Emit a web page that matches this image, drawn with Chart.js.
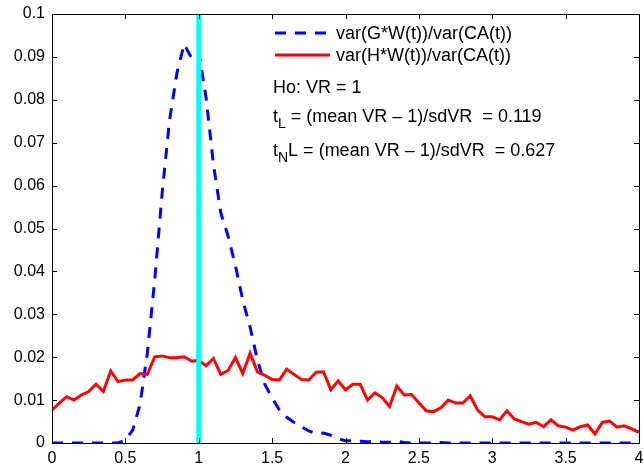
<!DOCTYPE html>
<html>
<head>
<meta charset="utf-8">
<script src="https://cdn.jsdelivr.net/npm/chart.js@4.4.0/dist/chart.umd.min.js"></script>
<style>
html, body { margin: 0; padding: 0; background: #fff; }
</style>
</head>
<body>
<canvas id="chart" width="643" height="470"></canvas>
<script>
const xValues = [
    0, 0.05, 0.1, 0.15, 0.2, 0.25, 0.3, 0.35, 0.4, 0.45,
    0.5, 0.55, 0.6, 0.65, 0.7, 0.75, 0.8, 0.85, 0.9, 0.95,
    1, 1.05, 1.1, 1.15, 1.2, 1.25, 1.3, 1.35, 1.4, 1.45,
    1.5, 1.55, 1.6, 1.65, 1.7, 1.75, 1.8, 1.85, 1.9, 1.95,
    2, 2.05, 2.1, 2.15, 2.2, 2.25, 2.3, 2.35, 2.4, 2.45,
    2.5, 2.55, 2.6, 2.65, 2.7, 2.75, 2.8, 2.85, 2.9, 2.95,
    3, 3.05, 3.1, 3.15, 3.2, 3.25, 3.3, 3.35, 3.4, 3.45,
    3.5, 3.55, 3.6, 3.65, 3.7, 3.75, 3.8, 3.85, 3.9, 3.95,
    4
];

// var(G*W(t))/var(CA(t))
const gRatio = [
    0, 0, 0, 0, 0, 0, 0, 0, 0, 0,
    0.0007, 0.0030, 0.0090, 0.0210, 0.0380, 0.0580, 0.0750, 0.0860, 0.0930, 0.0898,
    0.0912, 0.0805, 0.0650, 0.0537, 0.0482, 0.0413, 0.0333, 0.0270, 0.0193, 0.0137,
    0.0105, 0.0077, 0.0060, 0.0048, 0.0038, 0.0028, 0.0022, 0.0023, 0.0018, 0.0010,
    0.0005, 0.0005, 0.0004, 0.0003, 0.0003, 0.0002, 0.0002, 0.0004, 0.0001, 0,
    0, 0, 0, 0.0001, 0, 0, 0, 0, 0, 0,
    0, 0, 0, 0, 0, 0, 0, 0, 0, 0,
    0, 0, 0, 0, 0, 0, 0, 0, 0, 0,
    0
];

// var(H*W(t))/var(CA(t))
const hRatio = [
    0.0077, 0.0093, 0.0108, 0.0100, 0.0112, 0.0120, 0.0137, 0.0120, 0.0168, 0.0143,
    0.0147, 0.0147, 0.0162, 0.0160, 0.0201, 0.0203, 0.0199, 0.0199, 0.0201, 0.0191,
    0.0192, 0.0180, 0.0197, 0.0160, 0.0169, 0.0199, 0.0162, 0.0209, 0.0166, 0.0158,
    0.0148, 0.0147, 0.0172, 0.0160, 0.0148, 0.0147, 0.0165, 0.0166, 0.0124, 0.0145,
    0.0124, 0.0137, 0.0137, 0.0100, 0.0117, 0.0106, 0.0085, 0.0133, 0.0112, 0.0113,
    0.0094, 0.0075, 0.0073, 0.0082, 0.0100, 0.0093, 0.0093, 0.0110, 0.0077, 0.0061,
    0.0061, 0.0054, 0.0075, 0.0056, 0.0050, 0.0044, 0.0048, 0.0038, 0.0054, 0.0040,
    0.0037, 0.0030, 0.0038, 0.0042, 0.0021, 0.0048, 0.0051, 0.0037, 0.0040, 0.0033,
    0.0025
];

// Ho: VR = 1
const hoLineX = [1, 1];
const hoLineY = [0, 0.1];

const legendLabels = ['var(G*W(t))/var(CA(t))', 'var(H*W(t))/var(CA(t))'];
const tL = '0.119';
const tNL = '0.627';

const FONT = '"Liberation Sans", Arial, Helvetica, sans-serif';

const toPoints = (xs, ys) => xs.map((x, i) => ({ x: x, y: ys[i] }));

// inward ticks on all four sides, box, legend and text, MATLAB style
const matlabAxes = {
    id: 'matlabAxes',
    afterDatasetsDraw(chart) {
        const ctx = chart.ctx;
        const a = chart.chartArea;
        const xs = chart.scales.x, ys = chart.scales.y;
        const len = 5;
        ctx.save();
        ctx.strokeStyle = '#000';
        ctx.lineWidth = 1;
        ctx.beginPath();
        xs.ticks.forEach(t => {
            const px = Math.round(xs.getPixelForValue(t.value)) + 0.5;
            ctx.moveTo(px, a.bottom); ctx.lineTo(px, a.bottom - len);
            ctx.moveTo(px, a.top); ctx.lineTo(px, a.top + len);
        });
        ys.ticks.forEach(t => {
            const py = Math.round(ys.getPixelForValue(t.value)) + 0.5;
            ctx.moveTo(a.left, py); ctx.lineTo(a.left + len, py);
            ctx.moveTo(a.right, py); ctx.lineTo(a.right - len, py);
        });
        ctx.stroke();
        ctx.strokeRect(Math.round(a.left) + 0.5, Math.round(a.top) + 0.5,
            Math.round(a.right - a.left), Math.round(a.bottom - a.top));

        // legend
        ctx.lineWidth = 3;
        ctx.strokeStyle = '#0000ff';
        ctx.setLineDash([11, 9]);
        ctx.beginPath(); ctx.moveTo(275, 33); ctx.lineTo(330, 33); ctx.stroke();
        ctx.setLineDash([]);
        ctx.strokeStyle = '#ff0000';
        ctx.beginPath(); ctx.moveTo(275, 55); ctx.lineTo(330, 55); ctx.stroke();

        ctx.fillStyle = '#000';
        ctx.textBaseline = 'alphabetic';
        ctx.font = '18px ' + FONT;
        ctx.fillText(legendLabels[0], 336, 39);
        ctx.fillText(legendLabels[1], 336, 61);

        ctx.fillText('Ho: VR = 1', 273, 93);

        // t_L line
        let x = 273;
        ctx.fillText('t', x, 122);
        x += ctx.measureText('t').width;
        ctx.font = '14px ' + FONT;
        ctx.fillText('L', x, 128);
        x += ctx.measureText('L').width;
        ctx.font = '18px ' + FONT;
        ctx.fillText(' = (mean VR \u2013 1)/sdVR  = ' + tL, x, 122);

        // t_N L line
        x = 273;
        ctx.fillText('t', x, 156);
        x += ctx.measureText('t').width;
        ctx.font = '14px ' + FONT;
        ctx.fillText('N', x, 162);
        x += ctx.measureText('N').width;
        ctx.font = '18px ' + FONT;
        ctx.fillText('L = (mean VR \u2013 1)/sdVR  = ' + tNL, x, 156);
        ctx.restore();
    }
};

const ctx = document.getElementById('chart').getContext('2d');

new Chart(ctx, {
    type: 'line',
    data: {
        datasets: [
            {
                label: 'Ho',
                data: toPoints(hoLineX, hoLineY),
                borderColor: '#00ffff',
                borderWidth: 5,
                pointRadius: 0,
                order: 0
            },
            {
                label: legendLabels[1],
                data: toPoints(xValues, hRatio),
                borderColor: '#ff0000',
                borderWidth: 3,
                pointRadius: 0,
                tension: 0,
                order: 1
            },
            {
                label: legendLabels[0],
                data: toPoints(xValues, gRatio),
                borderColor: '#0000ff',
                borderWidth: 3,
                borderDash: [11, 9],
                pointRadius: 0,
                tension: 0,
                order: 2
            }
        ]
    },
    options: {
        responsive: false,
        animation: false,
        layout: { padding: { top: 14, right: 4, left: 0, bottom: 0 } },
        plugins: {
            legend: { display: false },
            tooltip: { enabled: false }
        },
        scales: {
            x: {
                type: 'linear',
                min: 0, max: 4,
                grid: { display: false, drawTicks: false },
                border: { display: false },
                ticks: {
                    stepSize: 0.5,
                    padding: 6,
                    color: '#000',
                    font: { family: FONT, size: 16 },
                    maxRotation: 0,
                    callback: v => String(+v.toFixed(1))
                },
                afterFit(scale) {
                    scale.height = 27;
                    scale.paddingLeft = 0;
                    scale.paddingRight = 0;
                }
            },
            y: {
                type: 'linear',
                min: 0, max: 0.1,
                grid: { display: false, drawTicks: false },
                border: { display: false },
                ticks: {
                    stepSize: 0.01,
                    padding: 7,
                    color: '#000',
                    font: { family: FONT, size: 16 },
                    callback: v => String(+v.toFixed(2))
                },
                afterFit(scale) {
                    scale.width = 52;
                    scale.paddingTop = 0;
                    scale.paddingBottom = 0;
                }
            }
        }
    },
    plugins: [matlabAxes]
});
</script>
</body>
</html>
